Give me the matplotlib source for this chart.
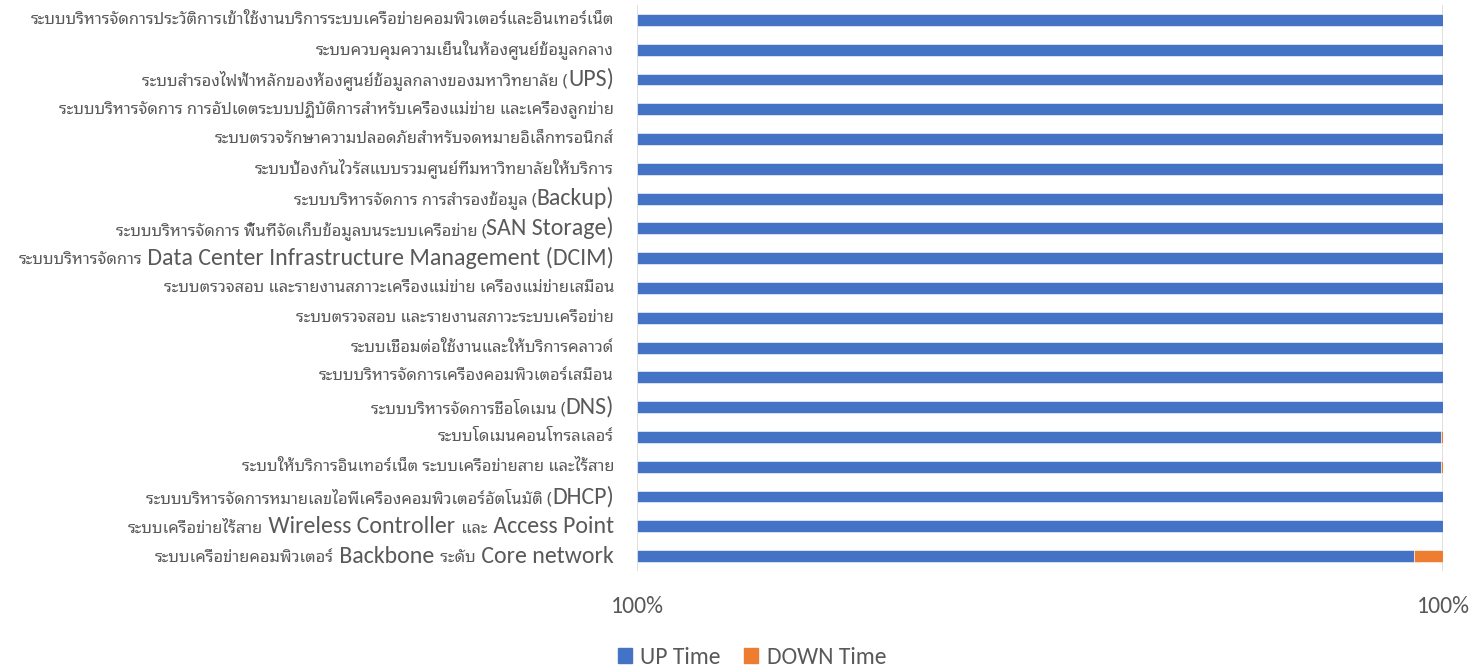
import matplotlib
matplotlib.use("Agg")
import matplotlib.pyplot as plt
import numpy as np
from matplotlib.patches import Patch
from matplotlib.ticker import PercentFormatter
from matplotlib.offsetbox import TextArea, HPacker, AnnotationBbox, DrawingArea

# categories, top to bottom as in the chart
labels = [
    "ระบบบริหารจัดการประวัติการเข้าใช้งานบริการระบบเครือข่ายคอมพิวเตอร์และอินเทอร์เน็ต",
    "ระบบควบคุมความเย็นในห้องศูนย์ข้อมูลกลาง",
    "ระบบสำรองไฟฟ้าหลักของห้องศูนย์ข้อมูลกลางของมหาวิทยาลัย (UPS)",
    "ระบบบริหารจัดการ การอัปเดตระบบปฏิบัติการสำหรับเครื่องแม่ข่าย และเครื่องลูกข่าย",
    "ระบบตรวจรักษาความปลอดภัยสำหรับจดหมายอิเล็กทรอนิกส์",
    "ระบบป้องกันไวรัสแบบรวมศูนย์ที่มหาวิทยาลัยให้บริการ",
    "ระบบบริหารจัดการ การสำรองข้อมูล (Backup)",
    "ระบบบริหารจัดการ พื้นที่จัดเก็บข้อมูลบนระบบเครือข่าย (SAN Storage)",
    "ระบบบริหารจัดการ Data Center Infrastructure Management (DCIM)",
    "ระบบตรวจสอบ และรายงานสภาวะเครื่องแม่ข่าย เครื่องแม่ข่ายเสมือน",
    "ระบบตรวจสอบ และรายงานสภาวะระบบเครือข่าย",
    "ระบบเชื่อมต่อใช้งานและให้บริการคลาวด์",
    "ระบบบริหารจัดการเครื่องคอมพิวเตอร์เสมือน",
    "ระบบบริหารจัดการชื่อโดเมน (DNS)",
    "ระบบโดเมนคอนโทรลเลอร์",
    "ระบบให้บริการอินเทอร์เน็ต ระบบเครือข่ายสาย และไร้สาย",
    "ระบบบริหารจัดการหมายเลขไอพีเครื่องคอมพิวเตอร์อัตโนมัติ (DHCP)",
    "ระบบเครือข่ายไร้สาย Wireless Controller และ Access Point",
    "ระบบเครือข่ายคอมพิวเตอร์ Backbone ระดับ Core network",
]

# share of time up / down
up_time = [1.0, 1.0, 1.0, 1.0, 1.0, 1.0, 1.0, 1.0, 1.0, 1.0,
           1.0, 1.0, 1.0, 1.0, 0.999998, 0.999998, 1.0, 1.0, 0.999964]
down_time = [1.0 - u for u in up_time]

series_names = ["UP Time", "DOWN Time"]
x_min = 0.999

BLUE = "#4472C4"
ORANGE = "#ED7D31"
GREY = "#595959"
LATIN = "Carlito"
THAI = "Noto Sans Thai Looped"
LATIN_SIZE = 17.2
THAI_SIZE = 11.9


def split_runs(text):
    # split label into runs of latin / thai text, so each gets its own font
    kinds = []
    prev = "T"
    for ch in text:
        if ch.isascii() and ch.isalnum():
            k = "L"
        elif ch == " ":
            k = None
        elif ch.isascii():
            k = prev
        else:
            k = "T"
        kinds.append(k)
        if k is not None:
            prev = k
    # spaces go with the next run
    nxt = "T"
    for i in range(len(kinds) - 1, -1, -1):
        if kinds[i] is None:
            kinds[i] = nxt
        else:
            nxt = kinds[i]
    runs = []
    for ch, k in zip(text, kinds):
        if runs and runs[-1][0] == k:
            runs[-1][1] += ch
        else:
            runs.append([k, ch])
    return runs


fig = plt.figure(figsize=(14.7, 6.65), dpi=100)
ax = fig.add_axes([637 / 1470, 1 - 571 / 665, 806 / 1470, 566 / 665])

n = len(labels)
y = np.arange(n)[::-1]
bar_h = 0.4
left = np.full(n, x_min)
ax.barh(y, np.array(up_time) - x_min, left=left, height=bar_h, color=BLUE,
        edgecolor="white", linewidth=0.4, label=series_names[0], zorder=3)
ax.barh(y, down_time, left=up_time, height=bar_h, color=ORANGE,
        edgecolor="white", linewidth=0.4, label=series_names[1], zorder=3)

ax.set_xlim(x_min, 1.0)
ax.set_ylim(-0.5, n - 0.5)
ax.set_xticks([x_min, 1.0])
ax.xaxis.set_major_formatter(PercentFormatter(xmax=1, decimals=0))
ax.set_yticks([])
ax.grid(axis="x", color="#D9D9D9", linewidth=1.2, zorder=0)
for s in ax.spines.values():
    s.set_visible(False)
ax.tick_params(axis="x", length=0, pad=18, labelsize=17, labelcolor=GREY)
for t in ax.get_xticklabels():
    t.set_fontfamily(LATIN)

for yi, lab in zip(y, labels):
    parts = []
    prev_kind = None
    for kind, txt in split_runs(lab):
        if kind == "L":
            prop = dict(fontfamily=LATIN, fontsize=LATIN_SIZE, color=GREY)
        else:
            prop = dict(fontfamily=THAI, fontsize=THAI_SIZE, color=GREY)
            if prev_kind == "L" and txt.startswith(" "):
                # thai space after latin text is a bit narrow
                parts.append(DrawingArea(1.5, 1))
        parts.append(TextArea(txt, textprops=prop))
        prev_kind = kind
    box = HPacker(children=parts, align="baseline", pad=0, sep=0)
    ab = AnnotationBbox(box, (-23 / 806, yi), xycoords=ax.get_yaxis_transform(),
                        box_alignment=(1, 0.5), frameon=False, pad=0,
                        annotation_clip=False)
    ax.add_artist(ab)

handles = [Patch(color=BLUE), Patch(color=ORANGE)]
fig.legend(handles, series_names, loc="center", bbox_to_anchor=(752 / 1470, 1 - 657 / 665),
           ncol=2, frameon=False, prop=dict(family=LATIN, size=17), labelcolor=GREY,
           handlelength=0.6, handleheight=0.6, handletextpad=0.35, columnspacing=1.0)

fig.savefig("out.png", dpi=100)
